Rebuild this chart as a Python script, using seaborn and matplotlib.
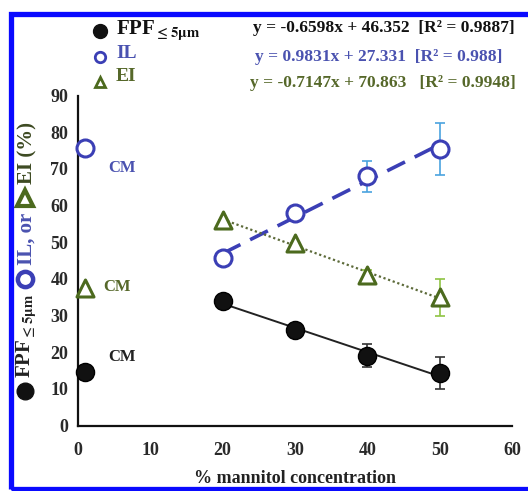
import matplotlib
matplotlib.use("Agg")
import matplotlib.pyplot as plt
import seaborn as sns
import numpy as np
import pandas as pd
from matplotlib.patches import Rectangle
from matplotlib.lines import Line2D

# ---------------- data ----------------
conc = [20, 30, 40, 50]
fpf = [34.0, 26.0, 19.0, 14.3]
fpf_err = [0.0, 0.0, 3.1, 4.4]
il = [45.7, 58.0, 68.0, 75.4]
il_err = [0.0, 0.0, 4.2, 7.2]
ei = [56.0, 49.8, 41.0, 35.0]
ei_err = [0.0, 0.0, 1.5, 5.0]

cm_x = [1.0]
cm_fpf = [14.6]
cm_il = [75.7]
cm_ei = [37.6]

eq_fpf = "y = -0.6598x + 46.352  [R² = 0.9887]"
eq_il = "y = 0.9831x + 27.331  [R² = 0.988]"
eq_ei = "y = -0.7147x + 70.863   [R² = 0.9948]"

x_ticks = [0, 10, 20, 30, 40, 50, 60]
y_ticks = [0, 10, 20, 30, 40, 50, 60, 70, 80, 90]

C_FPF = "#111111"
C_IL = "#3b3fb5"
C_IL_ERR = "#4aa3df"
C_EI = "#4c6a1e"
C_EI_ERR = "#8fc443"
C_IL_TXT = "#4a52b0"
C_EI_TXT = "#56682a"

sns.set_style("white")
plt.rcParams["font.family"] = ["Liberation Serif", "DejaVu Serif"]
plt.rcParams["font.weight"] = "bold"
plt.rcParams["mathtext.fontset"] = "stix"

W, H = 528, 491
fig = plt.figure(figsize=(W / 100, H / 100), dpi=100)
fig.patch.set_facecolor("white")

def fx(px):
    return px / W

def fy(py):
    return 1 - py / H

ax = fig.add_axes([fx(78), fy(425.5), fx(512) - fx(78), (330.0) / H])

df = pd.DataFrame({"conc": conc, "fpf": fpf, "il": il, "ei": ei})

# regression lines (computed by seaborn)
sns.regplot(data=df, x="conc", y="fpf", scatter=False, ci=None, ax=ax,
            line_kws=dict(color="#222222", lw=1.4, ls="-"))
sns.regplot(data=df, x="conc", y="il", scatter=False, ci=None, ax=ax,
            line_kws=dict(color=C_IL, lw=2.6, ls=(0, (5.5, 3))))
sns.regplot(data=df, x="conc", y="ei", scatter=False, ci=None, ax=ax,
            line_kws=dict(color="#5d6b3a", lw=1.6, ls=(0, (1, 1.2))))

# error bars
ax.errorbar(conc, fpf, yerr=fpf_err, fmt="none", ecolor="#333333", elinewidth=1.2,
            capsize=3.5, capthick=1.2, zorder=3)
ax.errorbar(conc, il, yerr=il_err, fmt="none", ecolor=C_IL_ERR, elinewidth=1.2,
            capsize=3.5, capthick=1.2, zorder=3)
ax.errorbar(conc, ei, yerr=ei_err, fmt="none", ecolor=C_EI_ERR, elinewidth=1.2,
            capsize=3.5, capthick=1.2, zorder=3)

# markers
sns.scatterplot(x=conc + cm_x, y=fpf + cm_fpf, ax=ax, marker="o", s=170,
                color=C_FPF, edgecolor="#000000", linewidth=1, zorder=5, clip_on=False)
sns.scatterplot(x=conc + cm_x, y=il + cm_il, ax=ax, marker="o", s=150,
                facecolor="white", edgecolor=C_IL, linewidth=2.2, zorder=5, clip_on=False)
sns.scatterplot(x=conc + cm_x, y=ei + cm_ei, ax=ax, marker="^", s=150,
                facecolor="white", edgecolor=C_EI, linewidth=2.2, zorder=5, clip_on=False)

# CM labels
ax.text(6.1, 70.2, "CM", color=C_IL_TXT, fontsize=12, fontweight="bold", ha="center", va="center")
ax.text(5.4, 37.8, "CM", color=C_EI_TXT, fontsize=12, fontweight="bold", ha="center", va="center")
ax.text(6.1, 18.7, "CM", color="#222222", fontsize=12, fontweight="bold", ha="center", va="center")

ax.set_xlim(0, 60)
ax.set_ylim(0, 90)
ax.set_xticks(x_ticks)
ax.set_yticks(y_ticks)
ax.set_xticklabels([str(t) for t in x_ticks])
ax.set_yticklabels([str(t) for t in y_ticks])
for s in ["top", "right"]:
    ax.spines[s].set_visible(False)
for s in ["left", "bottom"]:
    ax.spines[s].set_linewidth(1.6)
    ax.spines[s].set_color("#111111")
ax.tick_params(axis="both", direction="out", length=4, width=1.6, colors="#111111",
               labelsize=13, labelcolor="#2a2a2a")
for lab in ax.get_xticklabels() + ax.get_yticklabels():
    lab.set_fontweight("bold")
ax.tick_params(axis="x", pad=8)
ax.tick_params(axis="y", pad=3)
ax.set_xlabel("% mannitol concentration", fontsize=13, fontweight="bold",
              color="#222222", labelpad=8)
ax.set_ylabel("")

# ---------------- legend at top ----------------
def fig_marker(px, py, marker, ms, fc, ec, mew):
    fig.add_artist(Line2D([fx(px)], [fy(py)], transform=fig.transFigure, marker=marker,
                          markersize=ms, markerfacecolor=fc, markeredgecolor=ec,
                          markeredgewidth=mew, linestyle="none"))

rows_y = [31, 57, 82]
fig_marker(100, rows_y[0], "o", 10, C_FPF, C_FPF, 1)
fig_marker(100, rows_y[1], "o", 7.5, "white", C_IL, 2.0)
fig_marker(100, rows_y[2], "^", 7.5, "white", C_EI, 2.0)
fig.text(fx(116), fy(rows_y[0]), r"FPF$_{\mathbf{\leq 5\mu m}}$", fontsize=15, color="#111111",
         ha="left", va="center", fontweight="bold")
fig.text(fx(116), fy(rows_y[1] - 3), "IL", fontsize=14, color=C_IL_TXT, ha="left", va="center",
         fontweight="bold")
fig.text(fx(116), fy(rows_y[2] - 5), "EI", fontsize=14, color=C_EI_TXT, ha="left", va="center",
         fontweight="bold")

fig.text(fx(515), fy(28), eq_fpf, fontsize=12.5, color="#111111", ha="right", va="center",
         fontweight="bold")
fig.text(fx(502), fy(57), eq_il, fontsize=12.5, color=C_IL_TXT, ha="right", va="center",
         fontweight="bold")
fig.text(fx(516), fy(83), eq_ei, fontsize=12.5, color=C_EI_TXT, ha="right", va="center",
         fontweight="bold")

# ---------------- composite y label ----------------
pieces = [
    ("M", "o", 12, "#111111", "#111111", 1, 18, 4),
    ("T", r"FPF$_{\mathbf{\leq 5\mu m}}$", 15, "#222222", None, None, None, 6),
    ("M", "o", 11, "white", C_IL, 3.2, 18, 5),
    ("T", "IL, or", 15, C_IL_TXT, None, None, None, 6),
    ("M", "^", 11, "white", C_EI, 3.0, 17, 5),
    ("T", "EI (%)", 15, "#3d4a22", None, None, None, 0),
]
fig.canvas.draw()
renderer = fig.canvas.get_renderer()
cur = 400.0
xcol = 27
for kind, a, size, col, ec, mew, span, gap in pieces:
    if kind == "M":
        fig_marker(xcol - 2, cur - span / 2.0, a, size, col, ec, mew)
        cur = cur - span - gap
    else:
        t = fig.text(fx(xcol), fy(cur), a, rotation=90, ha="center", va="bottom",
                     fontsize=size, color=col, fontweight="bold")
        bb = t.get_window_extent(renderer)
        cur = cur - bb.height - gap

# ---------------- blue frame ----------------
fig.patches.append(Rectangle((fx(10.5), fy(489)), 1.1, fy(14.5) - fy(489),
                             transform=fig.transFigure, fill=False,
                             edgecolor="#0a0aff", linewidth=3.8, zorder=10))

fig.savefig("out.png", dpi=100, facecolor="white")
